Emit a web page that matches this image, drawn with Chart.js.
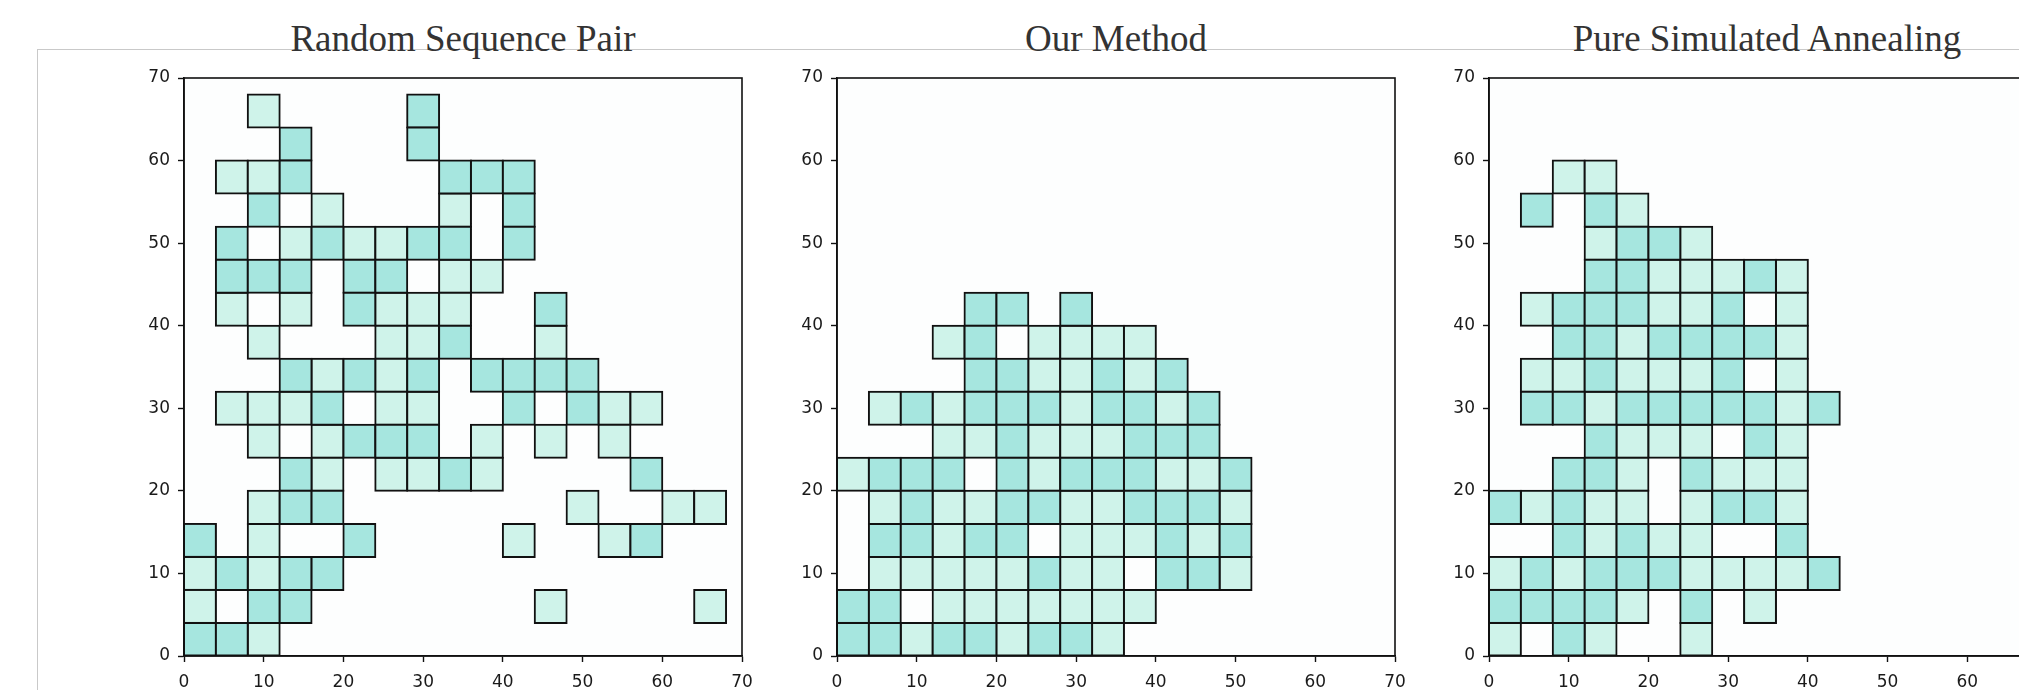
<!DOCTYPE html>
<html>
<head>
<meta charset="utf-8">
<script src="https://cdn.jsdelivr.net/npm/chart.js@4.4.1/dist/chart.umd.min.js"></script>
<style>
  html, body { margin: 0; padding: 0; background: #fff; width: 2019px; height: 690px; overflow: hidden; position: relative; }
  .frame { position: absolute; left: 37px; top: 49px; width: 2000px; height: 660px; border-top: 1px solid #c9c9c9; border-left: 1px solid #c9c9c9; }
  .title { position: absolute; top: 20px; font-family: "Liberation Serif", "Times New Roman", serif; font-size: 37px; line-height: 1; color: #333; white-space: nowrap; transform: translateX(-50%); }
  canvas { position: absolute; top: 58px; }
</style>
</head>
<body>
<div class="frame"></div>
<div class="title" id="t1" style="left:463px"></div>
<div class="title" id="t2" style="left:1116px"></div>
<div class="title" id="t3" style="left:1767px"></div>
<canvas id="c1" width="642" height="652" style="left:124px"></canvas>
<canvas id="c2" width="642" height="652" style="left:777px"></canvas>
<canvas id="c3" width="642" height="652" style="left:1429px"></canvas>
<script>
// panel titles
const titles = ['Random Sequence Pair', 'Our Method', 'Pure Simulated Annealing'];

// axis range and tick labels (same for all three plots)
const axisMin = 0;
const axisMax = 70;
const tickValues = [0, 10, 20, 30, 40, 50, 60, 70];

// every block is a 4x4 square, stored by its lower-left corner [x, y]
const CELL = 4;

// Random Sequence Pair
const rspDark = [
  [28,64], [12,60], [28,60], [12,56], [32,56], [36,56], [40,56],
  [8,52], [40,52], [4,48], [16,48], [28,48], [32,48], [40,48],
  [4,44], [8,44], [12,44], [20,44], [24,44], [20,40], [44,40], [32,36],
  [12,32], [20,32], [28,32], [36,32], [40,32], [44,32], [48,32],
  [16,28], [40,28], [48,28], [20,24], [24,24], [28,24],
  [12,20], [32,20], [56,20], [12,16], [16,16], [0,12], [20,12], [56,12],
  [4,8], [12,8], [16,8], [8,4], [12,4], [0,0], [4,0]
];
const rspLight = [
  [8,64], [4,56], [8,56], [16,52], [32,52], [12,48], [20,48], [24,48],
  [32,44], [36,44], [4,40], [12,40], [24,40], [28,40], [32,40],
  [8,36], [24,36], [28,36], [44,36], [16,32], [24,32],
  [4,28], [8,28], [12,28], [24,28], [28,28], [52,28], [56,28],
  [8,24], [16,24], [36,24], [44,24], [52,24],
  [16,20], [24,20], [28,20], [36,20], [8,16], [48,16], [60,16], [64,16],
  [8,12], [40,12], [52,12], [0,8], [8,8], [0,4], [44,4], [64,4], [8,0]
];

// Our Method
const omDark = [
  [16,40], [20,40], [28,40], [16,36], [16,32], [20,32], [32,32], [40,32],
  [8,28], [16,28], [20,28], [24,28], [32,28], [36,28], [44,28],
  [20,24], [36,24], [40,24], [44,24],
  [4,20], [8,20], [12,20], [20,20], [28,20], [32,20], [36,20], [48,20],
  [8,16], [20,16], [24,16], [36,16], [40,16], [44,16],
  [4,12], [8,12], [16,12], [20,12], [40,12], [48,12],
  [24,8], [40,8], [44,8], [0,4], [4,4],
  [0,0], [4,0], [12,0], [16,0], [24,0], [28,0]
];
const omLight = [
  [12,36], [24,36], [28,36], [32,36], [36,36], [24,32], [28,32], [36,32],
  [4,28], [12,28], [28,28], [40,28],
  [12,24], [16,24], [24,24], [28,24], [32,24],
  [0,20], [24,20], [40,20], [44,20],
  [4,16], [12,16], [16,16], [28,16], [32,16], [48,16],
  [12,12], [28,12], [32,12], [36,12], [44,12],
  [4,8], [8,8], [12,8], [16,8], [20,8], [28,8], [32,8], [48,8],
  [12,4], [16,4], [20,4], [24,4], [28,4], [32,4], [36,4],
  [8,0], [20,0], [32,0]
];

// Pure Simulated Annealing
const psaDark = [
  [4,52], [12,52], [16,48], [20,48], [12,44], [16,44], [32,44],
  [8,40], [12,40], [16,40], [28,40],
  [8,36], [12,36], [20,36], [24,36], [28,36], [32,36], [12,32], [28,32],
  [4,28], [8,28], [16,28], [20,28], [24,28], [28,28], [32,28], [40,28],
  [12,24], [32,24], [8,20], [12,20], [24,20],
  [0,16], [8,16], [28,16], [32,16], [8,12], [16,12], [36,12],
  [4,8], [12,8], [16,8], [20,8], [40,8],
  [0,4], [4,4], [8,4], [12,4], [24,4], [8,0]
];
const psaLight = [
  [8,56], [12,56], [16,52], [12,48], [24,48],
  [20,44], [24,44], [28,44], [36,44], [4,40], [20,40], [24,40], [36,40],
  [16,36], [36,36], [4,32], [8,32], [16,32], [20,32], [24,32], [36,32],
  [12,28], [36,28], [16,24], [20,24], [24,24], [36,24],
  [16,20], [28,20], [32,20], [36,20],
  [4,16], [12,16], [16,16], [24,16], [36,16], [12,12], [20,12], [24,12],
  [0,8], [8,8], [24,8], [28,8], [32,8], [36,8],
  [16,4], [32,4], [0,0], [12,0], [24,0]
];

const DARK = '#a6e6df';
const LIGHT = '#cff3ea';
const INK = '#111';

// floating bars: x is the block centre, y spans the block height
function toBars(cells) {
  return cells.map(([x, y]) => ({ x: x + CELL / 2, y: [y, y + CELL] }));
}

const framePlugin = {
  id: 'frame',
  beforeDraw(chart) {
    const a = chart.chartArea, c = chart.ctx;
    c.save();
    c.fillStyle = '#fdfefe';
    c.fillRect(a.left, a.top, a.right - a.left, a.bottom - a.top);
    c.restore();
  },
  afterDatasetsDraw(chart) {
    const a = chart.chartArea, c = chart.ctx;
    c.save();
    c.strokeStyle = INK;
    c.lineWidth = 1.6;
    c.strokeRect(a.left, a.top, a.right - a.left, a.bottom - a.top);
    c.restore();
  }
};

const tickFont = { family: 'DejaVu Sans', size: 17 };

function axis(extra) {
  return Object.assign({
    type: 'linear',
    min: axisMin,
    max: axisMax,
    offset: false,
    afterBuildTicks: s => { s.ticks = tickValues.map(v => ({ value: v })); },
    grid: { display: true, drawOnChartArea: false, drawTicks: true, tickLength: 6, tickColor: INK, tickWidth: 1.4, offset: false },
    border: { display: true, color: INK, width: 1.6 }
  }, extra);
}

function makeChart(id, dark, light) {
  return new Chart(document.getElementById(id), {
    type: 'bar',
    data: {
      datasets: [
        { data: toBars(dark), backgroundColor: DARK },
        { data: toBars(light), backgroundColor: LIGHT }
      ]
    },
    options: {
      responsive: false,
      animation: false,
      devicePixelRatio: 1,
      datasets: {
        bar: {
          grouped: false,
          categoryPercentage: 1,
          barPercentage: 1,
          borderColor: INK,
          borderWidth: 2,
          borderSkipped: false,
          inflateAmount: 1
        }
      },
      layout: { padding: { top: 20, right: 24, left: 0, bottom: 0 } },
      plugins: { legend: { display: false }, tooltip: { enabled: false } },
      scales: {
        x: axis({ afterFit: s => { s.height = 54; }, ticks: { color: '#1a1a1a', padding: 10, maxRotation: 0, font: tickFont } }),
        y: axis({ afterFit: s => { s.width = 60; }, ticks: { color: '#1a1a1a', padding: 8, font: tickFont } })
      }
    },
    plugins: [framePlugin]
  });
}

document.getElementById('t1').innerText = titles[0];
document.getElementById('t2').innerText = titles[1];
document.getElementById('t3').innerText = titles[2];

makeChart('c1', rspDark, rspLight);
makeChart('c2', omDark, omLight);
makeChart('c3', psaDark, psaLight);
</script>
</body>
</html>
